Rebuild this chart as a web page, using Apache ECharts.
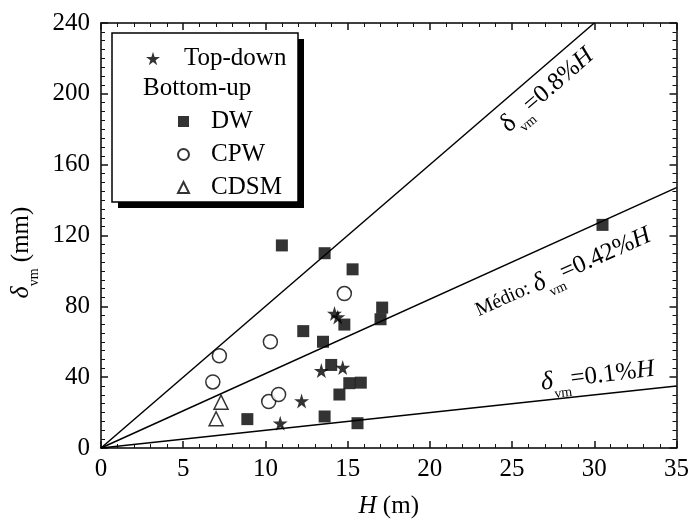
<!DOCTYPE html>
<html>
<head>
<meta charset="utf-8">
<script src="https://cdn.jsdelivr.net/npm/echarts@6/dist/echarts.min.js"></script>
<style>
  html, body { margin: 0; padding: 0; background: #fff; }
  #chart { width: 692px; height: 527px; }
</style>
</head>
<body>
<div id="chart"></div>
<script>
// pontos: [H (m), delta_vm (mm)]
const topDown = [[14.2, 76], [14.4, 74], [13.4, 43.7], [14.7, 45.4], [12.2, 26.6], [10.9, 14]];
const dw = [[11.0, 114.4], [13.6, 110], [15.3, 100.9], [12.3, 66], [13.5, 60], [14.8, 69.7],
            [17.1, 79.3], [17.0, 72.7], [14.0, 46.9], [14.5, 30.2], [15.1, 36.6], [15.8, 36.9],
            [8.9, 16.3], [13.6, 17.8], [15.6, 14], [30.5, 126]];
const cpw = [[14.8, 87.2], [10.3, 60], [7.2, 52.1], [6.8, 37.3], [10.2, 26.2], [10.8, 30.2]];
const cdsm = [[7.3, 25.9], [7.0, 16.5]];

// retas delta = r% de H
const ratios = [0.8, 0.42, 0.1];
const labelAt = [[27.14, 202], [28.1, 98.9], [30.2, 40.7]];
const labelRot = [41, 24, 7];
const labelText = [
  '{du|δ}{s|vm}{t|=0.8%}{i|H}',
  '{m|Médio: }{d|δ}{s|vm}{t|=0.42%}{i|H}',
  '{d|δ}{s|vm}{t|=0.1%}{i|H}'
];

const xMax = 35, yMax = 240;
const font = 'Liberation Serif';
const ink = '#111';
const star = 'path://M50,0 L61,35 L98,35 L68,57 L79,91 L50,70 L21,91 L32,57 L2,35 L39,35 Z';

const rich = {
  du: { fontFamily: font, fontSize: 26, color: '#000' },
  d: { fontFamily: font, fontSize: 26, fontStyle: 'italic', color: '#000' },
  s: { fontFamily: font, fontSize: 14, color: '#000', verticalAlign: 'bottom', lineHeight: 40 },
  t: { fontFamily: font, fontSize: 25, color: '#000' },
  i: { fontFamily: font, fontSize: 25, fontStyle: 'italic', color: '#000' },
  m: { fontFamily: font, fontSize: 20, color: '#000' }
};

const lineSeries = ratios.map((r, k) => {
  const k10 = r * 10;
  const hEnd = Math.min(xMax, yMax / k10);
  return {
    type: 'line',
    data: [[0, 0], [hEnd, k10 * hEnd]],
    symbol: 'none',
    lineStyle: { color: '#000', width: 1.5 },
    z: 1,
    silent: true,
    markPoint: {
      symbol: 'circle',
      symbolSize: 0,
      data: [{ coord: labelAt[k] }],
      label: {
        show: true,
        position: 'inside',
        rotate: labelRot[k],
        formatter: labelText[k],
        rich: rich
      }
    }
  };
});

// eixos com ticks para dentro (espelhados em cima e a direita)
function mkAxis(extra, split) {
  return Object.assign({
    min: 0,
    axisLine: { show: true, onZero: false, lineStyle: { color: '#000', width: 1.5 } },
    axisTick: { show: true, inside: true, length: 7, lineStyle: { color: ink, width: 1.5 } },
    minorTick: { show: true, splitNumber: split, length: 4, lineStyle: { color: ink, width: 1 } },
    splitLine: { show: false }
  }, extra);
}

// eixos so para o titulo
function nameAxis(extra) {
  return Object.assign({
    type: 'value', min: 0,
    axisLine: { show: false, onZero: false },
    axisTick: { show: false },
    axisLabel: { show: false },
    splitLine: { show: false },
    nameLocation: 'middle'
  }, extra);
}

const option = {
  animation: false,
  grid: { left: 101, right: 14, top: 23, bottom: 79 },
  xAxis: [
    mkAxis({
      type: 'value', max: xMax, interval: 5,
      axisLabel: { color: '#000', fontFamily: font, fontSize: 25, margin: 9 }
    }, 5),
    mkAxis({ type: 'value', position: 'top', max: xMax, interval: 5, axisLabel: { show: false } }, 5),
    nameAxis({
      position: 'bottom', max: xMax,
      name: '{i|H} (m)',
      nameGap: 46,
      nameTextStyle: { color: '#000', fontFamily: font, fontSize: 25,
        rich: { i: { fontFamily: font, fontSize: 25, fontStyle: 'italic', color: '#000' } } }
    })
  ],
  yAxis: [
    mkAxis({
      type: 'value', max: yMax, interval: 40,
      axisLabel: { color: '#000', fontFamily: font, fontSize: 25, margin: 11 }
    }, 8),
    mkAxis({ type: 'value', position: 'right', max: yMax, interval: 40, axisLabel: { show: false } }, 8),
    nameAxis({
      position: 'left', max: yMax,
      name: '{d|δ}{s|vm} (mm)',
      nameRotate: 90,
      nameGap: 60,
      nameTextStyle: { color: '#000', fontFamily: font, fontSize: 25, padding: [0, 34, 0, 0],
        rich: {
          d: { fontFamily: font, fontSize: 26, fontStyle: 'italic', color: '#000' },
          s: { fontFamily: font, fontSize: 14, color: '#000', verticalAlign: 'bottom', lineHeight: 40 }
        } }
    })
  ],
  graphic: [
    {
      type: 'rect', z: 50,
      shape: { x: 118, y: 39, width: 186, height: 169 },
      style: { fill: '#000' }
    },
    {
      type: 'rect', z: 51,
      shape: { x: 112, y: 33, width: 186, height: 169 },
      style: { fill: '#fff', stroke: '#000', lineWidth: 1.5 }
    },
    {
      type: 'text', z: 60, left: 143, top: 76,
      style: { text: 'Bottom-up', fill: '#000', font: '25px "Liberation Serif"' }
    }
  ],
  legend: [
    {
      data: ['Top-down'],
      left: 141, top: 41, z: 60,
      itemWidth: 14, itemHeight: 14,
      textStyle: { color: '#000', fontFamily: font, fontSize: 25, padding: [0, 0, 0, 19] }
    },
    {
      data: ['DW', 'CPW', 'CDSM'],
      orient: 'vertical',
      left: 172, top: 104, z: 60,
      itemWidth: 11, itemHeight: 11, itemGap: 8,
      textStyle: { color: '#000', fontFamily: font, fontSize: 25, padding: [0, 0, 0, 17] }
    }
  ],
  series: lineSeries.concat([
    {
      name: 'DW', type: 'scatter', data: dw, symbol: 'rect', symbolSize: 12,
      itemStyle: { color: '#000' }, z: 3
    },
    {
      name: 'CPW', type: 'scatter', data: cpw, symbol: 'circle', symbolSize: 14,
      itemStyle: { color: '#fff', borderColor: '#000', borderWidth: 1.5 }, z: 3
    },
    {
      name: 'CDSM', type: 'scatter', data: cdsm, symbol: 'triangle', symbolSize: 14,
      itemStyle: { color: '#fff', borderColor: '#000', borderWidth: 1.5 }, z: 3
    },
    {
      name: 'Top-down', type: 'scatter', data: topDown, symbol: star, symbolSize: 15,
      itemStyle: { color: '#000' }, z: 4
    }
  ])
};

echarts.init(document.getElementById('chart')).setOption(option);
</script>
</body>
</html>
